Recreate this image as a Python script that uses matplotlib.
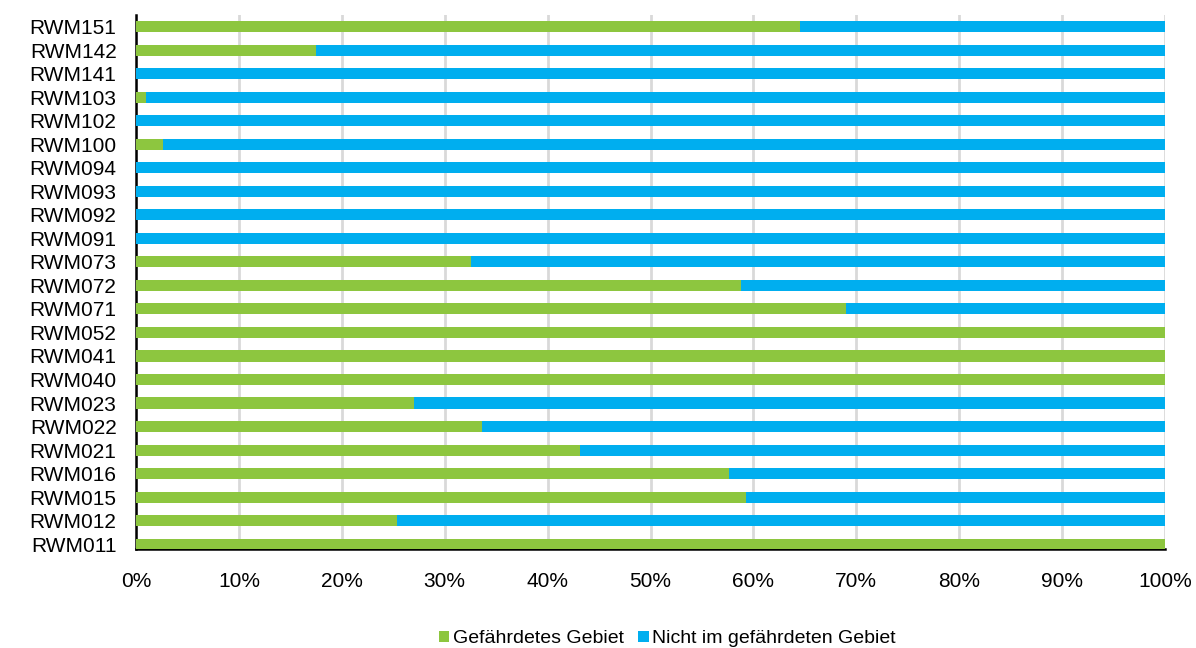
import numpy as np
import matplotlib.pyplot as plt

plt.rcParams['font.family'] = ['Liberation Sans', 'DejaVu Sans']

# Messstellen von unten nach oben
stations = ['RWM011', 'RWM012', 'RWM015', 'RWM016', 'RWM021', 'RWM022', 'RWM023',
            'RWM040', 'RWM041', 'RWM052', 'RWM071', 'RWM072', 'RWM073', 'RWM091',
            'RWM092', 'RWM093', 'RWM094', 'RWM100', 'RWM102', 'RWM103', 'RWM141',
            'RWM142', 'RWM151']
# Anteil im gefährdeten Gebiet in %
gefaehrdet = [100, 25.4, 59.3, 57.6, 43.1, 33.6, 27.0,
              100, 100, 100, 69.0, 58.8, 32.6, 0,
              0, 0, 0, 2.6, 0, 1.0, 0,
              17.5, 64.5]
nicht_gefaehrdet = [100 - v for v in gefaehrdet]

green = '#8dc63f'
blue = '#00aeef'

fig = plt.figure(figsize=(11.96, 6.48), dpi=100)
ax = fig.add_axes([0.1137, 0.153, 0.8604, 0.824])

y = np.arange(len(stations))
ax.barh(y, gefaehrdet, height=0.47, color=green, label='Gefährdetes Gebiet', zorder=3)
ax.barh(y, nicht_gefaehrdet, left=gefaehrdet, height=0.47, color=blue,
        label='Nicht im gefährdeten Gebiet', zorder=3)

ax.set_xlim(0, 100)
ax.set_ylim(-0.2, 22.5)
ax.set_yticks(y)
ax.set_yticklabels(stations, fontsize=15)
ax.set_xticks(np.arange(0, 101, 10))
ax.set_xticklabels([f'{v}%' for v in range(0, 101, 10)], fontsize=15)
ax.tick_params(axis='both', length=0)
ax.tick_params(axis='x', pad=17)
ax.tick_params(axis='y', pad=14)

ax.xaxis.grid(True, color='#d9d9d9', linewidth=2, zorder=0)
ax.set_axisbelow(True)
for s in ['top', 'right']:
    ax.spines[s].set_visible(False)
ax.spines['left'].set_linewidth(1.8)
ax.spines['bottom'].set_linewidth(1.8)

fig.legend(loc='lower center', bbox_to_anchor=(0.558, -0.026), ncol=2, frameon=False,
           fontsize=14, handlelength=0.55, handleheight=0.55, handletextpad=0.2,
           columnspacing=0.7)

fig.savefig('out.png', dpi=100)
